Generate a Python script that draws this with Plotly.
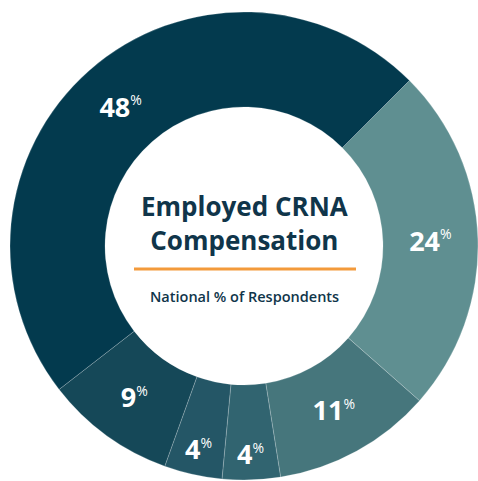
import plotly.graph_objects as go

labels = ["Category A", "Category B", "Category C", "Category D", "Category E", "Category F"]
values = [24, 11, 4, 4, 9, 48]
colors = ["#5f8f91", "#46767c", "#316470", "#245666", "#154858", "#033a4e"]

text_labels = [f"{v}<sup><span style='font-size:14px;font-weight:500'>%</span></sup>" for v in values]

W, H = 478, 481
cx, cy, R = 244, 246, 234

fig = go.Figure(go.Pie(
    labels=labels,
    values=values,
    text=text_labels,
    textinfo="text",
    textposition="inside",
    insidetextorientation="horizontal",
    textfont=dict(family="Open Sans", size=27, color="white", weight="bold"),
    marker=dict(colors=colors, line=dict(color="rgba(255,255,255,0.35)", width=0.6)),
    hole=0.594,
    sort=False,
    direction="clockwise",
    rotation=45,
    domain=dict(x=[(cx - R) / W, (cx + R) / W], y=[(H - cy - R) / H, (H - cy + R) / H]),
    showlegend=False,
    hoverinfo="skip",
))

navy = "#10354a"
fig.add_annotation(
    x=cx / W, y=1 - 223 / H, xref="paper", yref="paper",
    text="<b>Employed CRNA<br>Compensation</b>",
    showarrow=False, font=dict(family="Open Sans", size=26, color=navy),
    xanchor="center", yanchor="middle", align="center",
)
fig.add_shape(type="line", xref="paper", yref="paper",
              x0=134 / W, x1=356 / W, y0=1 - 269 / H, y1=1 - 269 / H,
              line=dict(color="#f39a3b", width=3))
fig.add_annotation(
    x=cx / W, y=1 - 296 / H, xref="paper", yref="paper",
    text="National % of Respondents",
    showarrow=False, font=dict(family="Open Sans", size=14.5, color=navy, weight=600),
    xanchor="center", yanchor="middle",
)

fig.update_layout(
    width=W, height=H,
    margin=dict(l=0, r=0, t=0, b=0),
    paper_bgcolor="white", plot_bgcolor="white",
)
fig.write_html("out.html", config={"displayModeBar": False},
               post_script="document.body.style.margin='0';document.body.style.overflow='hidden';")
